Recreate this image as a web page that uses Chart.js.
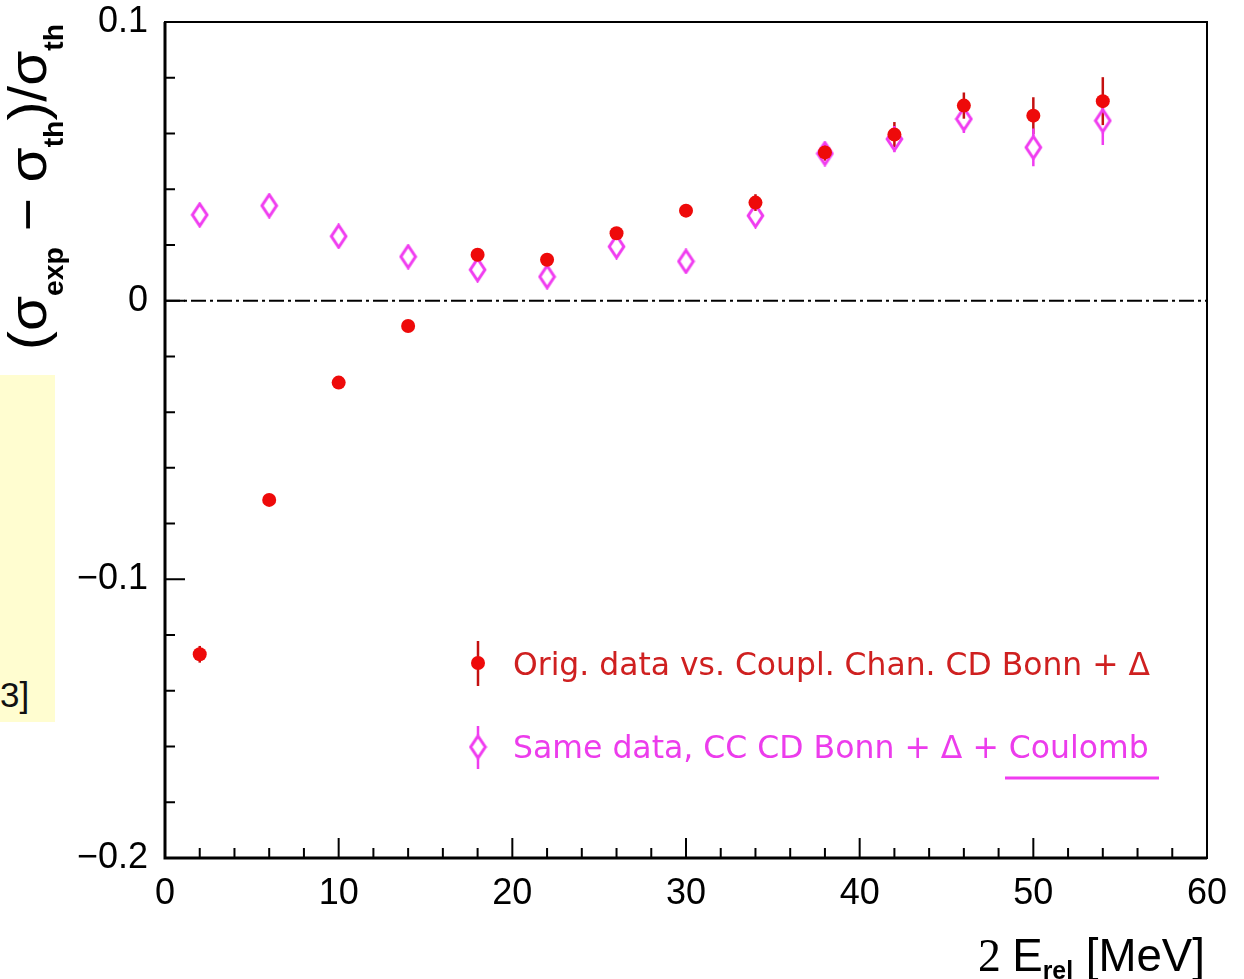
<!DOCTYPE html>
<html>
<head>
<meta charset="utf-8">
<script src="https://cdn.jsdelivr.net/npm/chart.js@4"></script>
<style>
  html, body { margin: 0; padding: 0; background: #fff; }
  #wrap { position: relative; width: 1244px; height: 979px; overflow: hidden; }
  #note {
    position: absolute; left: 0; top: 375px; width: 55px; height: 347px;
    background: #fffdd0; font: 35px "Liberation Sans", Arial, sans-serif;
    color: #111; overflow: hidden;
  }
  #note span { position: absolute; left: 0; top: 300px; line-height: 40px; }
  canvas { position: absolute; left: 0; top: 0; }
</style>
</head>
<body>
<div id="wrap">
  <div id="note"><span>3]</span></div>
  <canvas id="chart" width="1244" height="979"></canvas>
</div>
<script>
// 2 E_rel in MeV
const energies = [2, 6, 10, 14, 18, 22, 26, 30, 34, 38, 42, 46, 50, 54];
// (sigma_exp - sigma_th)/sigma_th, original data vs coupled channel CD Bonn + Delta
const origRatio = [-0.1269, -0.0715, -0.0294, -0.0091, 0.0165, 0.0147, 0.0242, 0.0323, 0.0352, 0.0532, 0.0596, 0.0700, 0.0664, 0.0716];
const origErr = [0.003, 0.001, 0.001, 0.001, 0.0015, 0.0015, 0.0015, 0.0015, 0.003, 0.003, 0.0045, 0.0047, 0.0066, 0.0086];
// same data vs CC CD Bonn + Delta + Coulomb
const coulRatio = [0.0308, 0.0341, 0.0231, 0.0158, 0.0111, 0.0086, 0.0194, 0.0141, 0.0305, 0.0528, 0.0580, 0.0652, 0.0550, 0.0646];
const coulErr = [0.001, 0.001, 0.001, 0.001, 0.001, 0.001, 0.001, 0.001, 0.002, 0.003, 0.0047, 0.005, 0.0068, 0.0087];

const xLabelTicks = [0, 10, 20, 30, 40, 50, 60];
const xLabelText = ["0", "10", "20", "30", "40", "50", "60"];
const yLabelTicks = [-0.2, -0.1, 0, 0.1];
const yLabelText = ["\u22120.2", "\u22120.1", "0", "0.1"];

const legendText = [
  "Orig. data vs. Coupl. Chan. CD Bonn + \u0394",
  "Same data, CC CD Bonn + \u0394 + Coulomb",
];

const RED = "#ee0a0a";
const RED_BAR = "#c41010";
const MAGENTA = "#f03cf0";
const FONT = '"Liberation Sans", Arial, sans-serif';
const LEGEND_FONT = '"DejaVu Sans", sans-serif';

function findLabel(value, ticks, texts) {
  for (let i = 0; i < ticks.length; i++) {
    if (Math.abs(value - ticks[i]) < 1e-6) return texts[i];
  }
  return null;
}

// tall hollow diamond marker
function makeDiamond() {
  const c = document.createElement("canvas");
  c.width = 19;
  c.height = 26;
  const g = c.getContext("2d");
  g.strokeStyle = MAGENTA;
  g.lineWidth = 3;
  g.beginPath();
  g.moveTo(9.5, 2);
  g.lineTo(16.8, 13);
  g.lineTo(9.5, 24);
  g.lineTo(2.2, 13);
  g.closePath();
  g.stroke();
  return c;
}
const diamond = makeDiamond();
const DIAMOND_HALF = 11.5;

function drawBar(ctx, x, yTop, yBot, gapHalf, yc, color) {
  ctx.save();
  ctx.strokeStyle = color;
  ctx.lineWidth = 2.5;
  ctx.beginPath();
  if (gapHalf > 0) {
    if (yTop < yc - gapHalf) { ctx.moveTo(x, yTop); ctx.lineTo(x, yc - gapHalf); }
    if (yBot > yc + gapHalf) { ctx.moveTo(x, yc + gapHalf); ctx.lineTo(x, yBot); }
  } else {
    ctx.moveTo(x, yTop);
    ctx.lineTo(x, yBot);
  }
  ctx.stroke();
  ctx.restore();
}

const errorBars = {
  id: "errorBars",
  beforeDatasetsDraw(chart) {
    const ctx = chart.ctx;
    const xs = chart.scales.x, ys = chart.scales.y;
    energies.forEach((e, i) => {
      const px = xs.getPixelForValue(e);
      drawBar(ctx, px, ys.getPixelForValue(origRatio[i] + origErr[i]),
        ys.getPixelForValue(origRatio[i] - origErr[i]), 0, 0, RED_BAR);
      const yc = ys.getPixelForValue(coulRatio[i]);
      drawBar(ctx, px, ys.getPixelForValue(coulRatio[i] + coulErr[i]),
        ys.getPixelForValue(coulRatio[i] - coulErr[i]), DIAMOND_HALF, yc, MAGENTA);
    });
  },
};

function drawPieces(ctx, pieces, x0, y0, targetLen) {
  let total = 0;
  pieces.forEach((p) => { ctx.font = p.font; p.w = ctx.measureText(p.t).width; total += p.w; });
  const k = targetLen / total;
  ctx.save();
  ctx.translate(x0, y0);
  ctx.scale(k, 1);
  let x = 0;
  pieces.forEach((p) => {
    ctx.font = p.font;
    ctx.fillText(p.t, x, p.dy || 0);
    x += p.w;
  });
  ctx.restore();
}

const decorations = {
  id: "decorations",
  afterDraw(chart) {
    const ctx = chart.ctx;
    const a = chart.chartArea;
    const xs = chart.scales.x, ys = chart.scales.y;
    ctx.save();
    ctx.strokeStyle = "#000";
    ctx.fillStyle = "#000";

    // frame
    ctx.lineWidth = 2;
    ctx.strokeRect(a.left, a.top, a.right - a.left, a.bottom - a.top);
    ctx.lineWidth = 3;
    ctx.beginPath();
    ctx.moveTo(a.left, a.top);
    ctx.lineTo(a.left, a.bottom);
    ctx.lineTo(a.right, a.bottom);
    ctx.stroke();

    // inward tick marks
    ctx.lineWidth = 2;
    ctx.beginPath();
    xs.ticks.forEach((t) => {
      const px = xs.getPixelForValue(t.value);
      const len = findLabel(t.value, xLabelTicks, xLabelText) !== null ? 20 : 10;
      if (t.value <= 0 || t.value >= 60) return;
      ctx.moveTo(px, a.bottom);
      ctx.lineTo(px, a.bottom - len);
    });
    ys.ticks.forEach((t) => {
      const py = ys.getPixelForValue(t.value);
      const len = findLabel(t.value, yLabelTicks, yLabelText) !== null ? 20 : 10;
      if (py <= a.top + 1 || py >= a.bottom - 1) return;
      ctx.moveTo(a.left, py);
      ctx.lineTo(a.left + len, py);
    });
    ctx.stroke();

    // y axis title, rotated
    const mainF = "54px " + FONT;
    const subF = "bold 27px " + FONT;
    ctx.save();
    ctx.translate(46, 350);
    ctx.rotate(-Math.PI / 2);
    drawPieces(ctx, [
      { t: "(", font: mainF },
      { t: "\u03c3", font: mainF },
      { t: "exp", font: subF, dy: 17 },
      { t: " \u2212 ", font: mainF },
      { t: "\u03c3", font: mainF },
      { t: "th", font: subF, dy: 17 },
      { t: ")", font: mainF },
      { t: "/", font: mainF },
      { t: "\u03c3", font: mainF },
      { t: "th", font: subF, dy: 17 },
    ], 0, 0, 326);
    ctx.restore();

    // x axis title
    drawPieces(ctx, [
      { t: "2 ", font: "46px \"Liberation Serif\", serif" },
      { t: "E", font: "46px " + FONT },
      { t: "rel", font: "bold 25px " + FONT, dy: 8 },
      { t: " [MeV]", font: "46px " + FONT },
    ], 978, 971, 227);

    // legend
    const lx = 478;
    ctx.strokeStyle = RED_BAR;
    ctx.lineWidth = 2.5;
    ctx.beginPath();
    ctx.moveTo(lx, 641);
    ctx.lineTo(lx, 686);
    ctx.stroke();
    ctx.fillStyle = RED;
    ctx.beginPath();
    ctx.arc(lx, 663, 7, 0, Math.PI * 2);
    ctx.fill();
    ctx.font = "31.5px " + LEGEND_FONT;
    ctx.fillStyle = "#cf2020";
    ctx.textBaseline = "alphabetic";
    ctx.fillText(legendText[0], 513, 675, 637);

    drawBar(ctx, lx, 726, 769, DIAMOND_HALF, 747, MAGENTA);
    ctx.drawImage(diamond, lx - 9.5, 747 - 13);
    ctx.fillStyle = "#ec3cec";
    ctx.fillText(legendText[1], 513, 758, 637);
    ctx.strokeStyle = MAGENTA;
    ctx.lineWidth = 3;
    ctx.beginPath();
    ctx.moveTo(1005, 778);
    ctx.lineTo(1159, 778);
    ctx.stroke();
    ctx.restore();
  },
};

new Chart(document.getElementById("chart"), {
  type: "scatter",
  data: {
    datasets: [
      {
        type: "line",
        data: [{ x: 0, y: 0 }, { x: 60, y: 0 }],
        borderColor: "#000",
        borderWidth: 2,
        borderDash: [15, 4, 3, 4],
        pointRadius: 0,
        showLine: true,
      },
      {
        label: legendText[0],
        data: energies.map((e, i) => ({ x: e, y: origRatio[i] })),
        pointStyle: "circle",
        pointRadius: 7,
        pointBackgroundColor: RED,
        pointBorderWidth: 0,
      },
      {
        label: legendText[1],
        data: energies.map((e, i) => ({ x: e, y: coulRatio[i] })),
        pointStyle: diamond,
        pointRadius: 10,
      },
    ],
  },
  options: {
    responsive: false,
    animation: false,
    events: [],
    layout: { padding: { left: 0, top: 22, right: 37, bottom: 0 } },
    plugins: { legend: { display: false }, tooltip: { enabled: false } },
    scales: {
      x: {
        type: "linear",
        min: 0,
        max: 60,
        grid: { display: false, drawTicks: false },
        border: { display: false },
        afterFit(scale) {
          scale.height = 121;
          scale.paddingLeft = 0;
          scale.paddingRight = 0;
        },
        ticks: {
          stepSize: 2,
          autoSkip: false,
          maxRotation: 0,
          padding: 14,
          color: "#000",
          font: { family: FONT, size: 36 },
          callback: (v) => findLabel(v, xLabelTicks, xLabelText) || "",
        },
      },
      y: {
        type: "linear",
        min: -0.2,
        max: 0.1,
        grid: { display: false, drawTicks: false },
        border: { display: false },
        afterFit(scale) {
          scale.width = 165;
          scale.paddingTop = 0;
          scale.paddingBottom = 0;
        },
        ticks: {
          stepSize: 0.02,
          maxTicksLimit: 100,
          autoSkip: false,
          padding: 17,
          color: "#000",
          font: { family: FONT, size: 36 },
          callback: (v) => findLabel(v, yLabelTicks, yLabelText) || "",
        },
      },
    },
  },
  plugins: [errorBars, decorations],
});
</script>
</body>
</html>
